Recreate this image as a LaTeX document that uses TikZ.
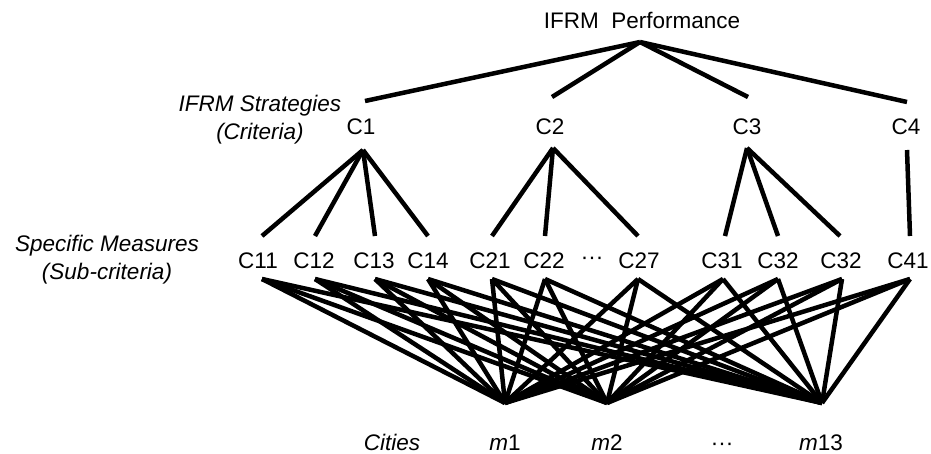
\documentclass[tikz,border=0pt]{standalone}
\usepackage{fontspec}
\setmainfont{Liberation Sans}
\usepackage{tikz}
\usetikzlibrary{positioning}

\begin{document}
\begin{tikzpicture}[x=1pt,y=-1pt,
    lbl/.style={font=\fontsize{22.5}{28}\selectfont,inner sep=0pt,anchor=base},
    side/.style={font=\fontsize{22.5}{28}\selectfont\itshape,inner sep=0pt,align=center},
    link/.style={line width=4.5pt}]
  \useasboundingbox (0,0) rectangle (931,453);

  % ── Goal ──
  \node[lbl] (goal) at (642,28) {IFRM\ \ Performance};
  \coordinate (apex) at (640,42);

  % ── Criteria ──
  \node[side] (strat) at (260,120) {IFRM Strategies\\(Criteria)};
  \node[lbl] (c1) at (361,134) {C1};
  \node[lbl] (c2) at (550,134) {C2};
  \node[lbl] (c3) at (747,134) {C3};
  \node[lbl] (c4) at (906,134) {C4};
  \foreach \c/\xi/\yi/\xo/\yo in {c1/365/101/363/150, c2/552/97/553/148,
      c3/748/97/747/148, c4/907/102/907/150}{
    \coordinate (\c-in) at (\xi,\yi);
    \coordinate (\c-out) at (\xo,\yo);
  }

  % ── Sub-criteria ──
  \node[side] (meas) at (107,260) {Specific Measures\\(Sub-criteria)};
  \foreach \s/\txt/\x/\xi/\xo in {c11/C11/258/262/262, c12/C12/314/315/315,
      c13/C13/374/375/375, c14/C14/428/428/428, c21/C21/490/492/492,
      c22/C22/544/545/545, c27/C27/639/638/638, c31/C31/722/725/723,
      c32/C32/778/778/778, c33/C32/841/840/842, c41/C41/908/910/910}{
    \node[lbl] (\s) at (\x,268) {\txt};
    \coordinate (\s-in) at (\xi,236);
    \coordinate (\s-out) at (\xo,279);
  }
  \node[lbl] (gap2) at (592,264) {···};

  % ── Cities ──
  \node[lbl,font=\fontsize{22.5}{28}\selectfont\itshape] (cities) at (392,450) {Cities};
  \node[lbl] (m1) at (505,450) {\textit{m}1};
  \node[lbl] (m2) at (607,450) {\textit{m}2};
  \node[lbl] (gapm) at (722,450) {···};
  \node[lbl] (m13) at (821,450) {\textit{m}13};
  \coordinate (m1-in) at (505,403);
  \coordinate (m2-in) at (607,403);
  \coordinate (m13-in) at (822,403);

  % ── Links ──
  \foreach \c in {c1,c2,c3,c4} \draw[link] (apex) -- (\c-in);
  \foreach \c/\subs in {c1/{c11,c12,c13,c14}, c2/{c21,c22,c27},
      c3/{c31,c32,c33}, c4/{c41}}
    \foreach \s in \subs \draw[link] (\c-out) -- (\s-in);
  \foreach \s in {c11,c12,c13,c14,c21,c22,c27,c31,c32,c33,c41}
    \foreach \m in {m1,m2,m13} \draw[link] (\s-out) -- (\m-in);
\end{tikzpicture}
\end{document}
